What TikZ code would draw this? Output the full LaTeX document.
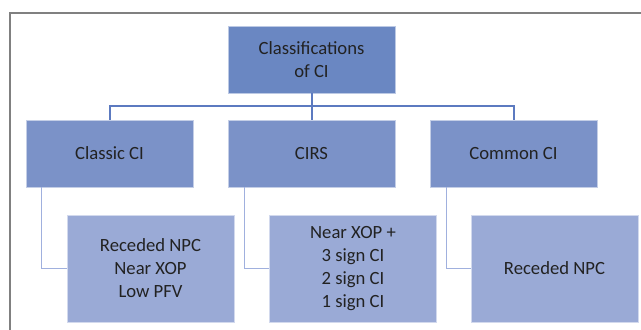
\documentclass[tikz,border=0pt]{standalone}
\usepackage{fontspec}
\setmainfont{Carlito}
\usetikzlibrary{positioning}

\definecolor{rootblue}{RGB}{106,135,194}
\definecolor{midblue}{RGB}{123,146,200}
\definecolor{lowblue}{RGB}{154,170,214}
\definecolor{busblue}{RGB}{92,122,192}
\definecolor{linkblue}{RGB}{160,176,222}
\definecolor{textgray}{RGB}{34,34,34}

\begin{document}
\begin{tikzpicture}[x=0.75pt,y=0.75pt,yscale=-1,xscale=1,
  box/.style={rectangle, draw=white!55!#1, line width=0.6pt, fill=#1, text=textgray,
    align=center, inner sep=0pt, minimum width=125.25pt,
    font=\fontsize{14}{17.2}\selectfont},
  topbox/.style={box=rootblue, minimum height=50.25pt},
  catbox/.style={box=midblue, minimum height=50.25pt},
  subbox/.style={box=lowblue, minimum height=80.25pt},
  bus/.style={draw=busblue, line width=1.5pt},
  link/.style={draw=linkblue, line width=1.2pt}]
\useasboundingbox (0,0) rectangle (641,329);

%Frame
\draw [color={rgb, 255:red, 128; green, 128; blue, 128 }, line width=1.2pt] (10,340) -- (10,13) -- (650,13) ;

% Text Node
\node [topbox] (root) at (311.5,59.5) {Classifications\\of CI};
% Text Node
\node [catbox] (classic) at (109.5,153.5) {Classic CI};
% Text Node
\node [catbox] (cirs) at (311.5,153.5) {CIRS};
% Text Node
\node [catbox] (common) at (513.5,153.5) {Common CI};
% Text Node
\node [subbox] (signs1) at (150.5,268.5) {Receded NPC\\Near XOP\\Low PFV};
% Text Node
\node [subbox] (signs2) at (353,268.5) {Near XOP +\\3 sign CI\\2 sign CI\\1 sign CI};
% Text Node
\node [subbox] (signs3) at (554.5,268.5) {Receded NPC};

%Straight Lines
\draw [bus] (classic.north) -- ++(0,-13.5) -| (common.north) ;
\draw [bus] (root.south) -- (cirs.north) ;

%Straight Lines
\draw [link] ([xshift=12pt]classic.south west) |- (signs1.west) ;
\draw [link] ([xshift=12.75pt]cirs.south west) |- (signs2.west) ;
\draw [link] ([xshift=12.75pt]common.south west) |- (signs3.west) ;

\end{tikzpicture}
\end{document}
